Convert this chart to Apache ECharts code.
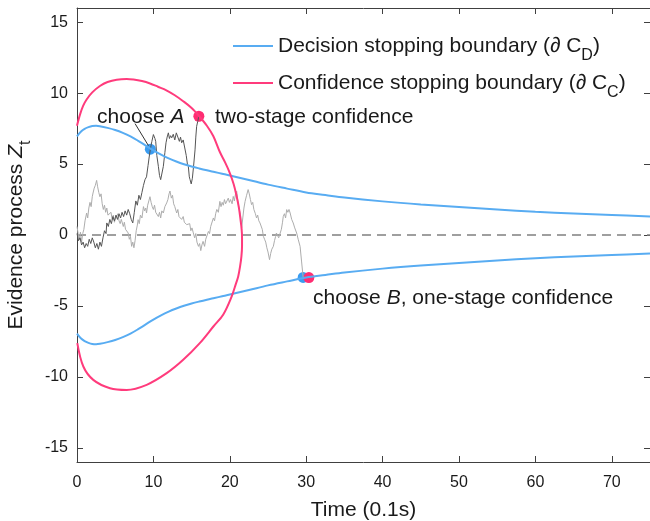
<!DOCTYPE html>
<html>
<head>
    <meta charset="utf-8">
    <title>Evidence process</title>
    <script src="https://cdn.jsdelivr.net/npm/echarts@6/dist/echarts.min.js"></script>
    <style>
        html, body { margin: 0; padding: 0; background: #fff; }
        #main { width: 650px; height: 521px; }
    </style>
</head>
<body>
<div id="main"></div>
<script>
    // 决策边界 (上下两条)
    var boundaryT = [0, 0.5, 1, 1.5, 2, 2.5, 3, 4, 5, 6, 7, 8, 9, 10, 11, 12, 13, 14, 15, 16, 17, 18, 19, 20,
        22.5, 25, 27.5, 30, 32.5, 35, 40, 45, 50, 55, 60, 65, 70, 75];
    var decisionUpper = [6.95, 7.28, 7.48, 7.6, 7.68, 7.7, 7.67, 7.55, 7.4, 7.2, 6.95, 6.64, 6.3, 5.96, 5.66, 5.4,
        5.18, 4.99, 4.83, 4.69, 4.56, 4.44, 4.32, 4.2, 3.88, 3.55, 3.27, 3.0, 2.82, 2.64, 2.37, 2.15, 1.97, 1.8,
        1.64, 1.52, 1.41, 1.3];
    var decisionLower = [-6.95, -7.28, -7.48, -7.6, -7.68, -7.7, -7.67, -7.55, -7.4, -7.2, -6.95, -6.64, -6.3,
        -5.96, -5.66, -5.4, -5.18, -4.99, -4.83, -4.69, -4.56, -4.44, -4.32, -4.2, -3.88, -3.55, -3.27, -3.0,
        -2.82, -2.64, -2.37, -2.15, -1.97, -1.8, -1.64, -1.52, -1.41, -1.3];

    // 置信边界 (闭合曲线, 按顺序)
    var confidenceCurve = [[0, 7.7], [0.4, 8.5], [0.8, 9.1], [1.26, 9.55], [2, 10.05], [3, 10.5], [4, 10.78],
        [5.2, 10.95], [6.5, 11.0], [7.4, 10.96], [8.5, 10.85], [9.56, 10.68], [10.6, 10.45], [11.7, 10.2],
        [12.8, 9.85], [13.9, 9.43], [15, 8.95], [16, 8.37], [17, 7.7], [17.85, 6.96], [18.7, 5.85],
        [19.4, 5.1], [19.9, 4.5], [20.5, 3.6], [20.9, 2.72], [21.2, 1.9], [21.4, 1.08], [21.55, 0.4],
        [21.6, -0.2], [21.6, -0.8], [21.52, -1.5], [21.35, -2.2], [21.1, -2.92], [20.7, -3.6], [20.25, -4.33],
        [19.15, -5.6], [17.85, -6.45], [16.1, -7.6], [13.9, -8.8], [11.74, -9.74], [9.12, -10.56],
        [6.5, -10.92], [4.32, -10.8], [2.13, -10.21], [0.83, -9.27], [0.04, -7.62]];

    // 证据过程 A (深灰)
    var pathA = [[0, 0.1], [0.2, -0.4], [0.4, -0.2], [0.6, -0.7], [0.8, -0.5], [1.0, -0.9], [1.2, -0.6],
        [1.4, -0.8], [1.6, -0.3], [1.8, -0.6], [2.0, -0.2], [2.2, -0.5], [2.4, -0.9], [2.6, -0.6], [2.8, -1.0],
        [3.0, -0.5], [3.2, -0.8], [3.4, -0.2], [3.6, 0.3], [3.8, 0.1], [3.9, 0.85], [4.1, 0.6], [4.3, 1.1],
        [4.5, 0.8], [4.7, 1.3], [4.9, 1.0], [5.1, 1.4], [5.3, 1.1], [5.5, 1.5], [5.7, 1.2], [5.9, 1.6],
        [6.1, 1.3], [6.3, 1.7], [6.5, 1.4], [6.7, 1.8], [6.9, 1.5], [7.1, 1.1], [7.3, 0.85], [7.5, 1.6],
        [7.7, 2.4], [7.9, 2.1], [8.1, 2.8], [8.3, 2.5], [8.5, 3.0], [8.7, 3.5], [8.9, 3.9], [9.1, 4.1],
        [9.3, 4.9], [9.45, 5.5], [9.6, 6.05], [9.8, 6.6], [10.0, 7.08], [10.2, 6.8], [10.3, 6.6], [10.45, 5.6],
        [10.65, 4.84], [10.8, 4.2], [10.95, 3.9], [11.1, 4.3], [11.3, 4.84], [11.5, 5.8], [11.65, 6.5],
        [11.8, 6.9], [11.96, 7.2], [12.1, 6.8], [12.25, 7.0], [12.4, 6.85], [12.6, 7.1], [12.8, 6.7],
        [13.0, 7.2], [13.2, 6.9], [13.4, 6.6], [13.55, 6.9], [13.7, 6.5], [13.9, 6.7], [14.1, 6.6],
        [14.3, 5.6], [14.45, 5.0], [14.57, 4.84], [14.7, 4.1], [14.8, 3.9], [14.95, 3.6], [15.1, 4.0],
        [15.25, 4.8], [15.45, 6.0], [15.55, 6.9], [15.66, 7.66], [15.8, 8.0], [15.95, 8.37]];

    // 证据过程 B (浅灰)
    var pathB = [[0, 0.6], [0.15, 0.1], [0.3, -0.3], [0.45, 0.2], [0.6, -0.5], [0.75, 0.1], [0.9, 0.4],
        [1.05, 1.0], [1.26, 1.55], [1.4, 1.2], [1.55, 1.9], [1.7, 2.3], [1.85, 2.0], [2.0, 2.7], [2.1, 2.96],
        [2.25, 3.3], [2.4, 3.5], [2.57, 3.85], [2.7, 3.4], [2.85, 3.0], [3.0, 2.7], [3.15, 2.9], [3.3, 2.2],
        [3.45, 1.8], [3.6, 2.1], [3.75, 1.6], [3.9, 1.9], [4.05, 1.4], [4.3, 1.3], [4.45, 1.6], [4.6, 1.1],
        [4.75, 1.4], [4.9, 0.9], [5.05, 1.2], [5.2, 1.1], [5.35, 1.5], [5.5, 1.0], [5.65, 0.8], [5.8, 1.1],
        [6.06, 0.6], [6.2, 0.9], [6.35, 0.4], [6.5, 0.5], [6.7, 0.14], [6.85, -0.3], [7.0, -0.1], [7.15, -0.8],
        [7.3, -0.5], [7.45, -0.9], [7.6, -0.4], [7.75, 0.3], [7.9, 0.7], [8.0, 1.08], [8.15, 0.8], [8.3, 1.4],
        [8.5, 1.2], [8.7, 2.0], [8.85, 1.7], [9.0, 1.9], [9.1, 1.55], [9.25, 2.1], [9.4, 2.4], [9.55, 2.7],
        [9.7, 2.3], [9.85, 2.0], [10.0, 1.8], [10.15, 2.1], [10.3, 1.6], [10.5, 1.5], [10.65, 1.3], [10.8, 1.6],
        [10.95, 1.2], [11.1, 1.7], [11.3, 1.55], [11.5, 2.0], [11.74, 2.26], [11.9, 2.5], [12.05, 2.9],
        [12.17, 3.1], [12.35, 2.6], [12.5, 2.8], [12.65, 2.2], [12.8, 2.0], [13.05, 1.55], [13.2, 1.8],
        [13.35, 1.3], [13.5, 1.43], [13.7, 1.1], [13.9, 1.3], [14.05, 0.9], [14.2, 1.0], [14.36, 0.73],
        [14.57, 0.6], [14.75, 0.8], [14.9, 0.3], [15.05, 0.5], [15.2, 0.2], [15.4, -0.2], [15.55, 0.1],
        [15.7, -0.5], [15.9, -0.8], [16.05, -0.6], [16.2, -1.1], [16.35, -0.7], [16.5, -0.45], [16.7, -0.8],
        [16.85, -0.3], [17.0, -0.33], [17.2, 0.25], [17.35, 0.1], [17.5, 0.6], [17.7, 0.5], [17.85, 1.2],
        [18.0, 1.0], [18.15, 1.5], [18.3, 1.8], [18.5, 1.6], [18.7, 2.37], [18.85, 2.0], [19.0, 2.3],
        [19.15, 2.1], [19.3, 2.5], [19.45, 2.2], [19.6, 2.14], [19.8, 2.6], [19.95, 2.3], [20.1, 2.5],
        [20.3, 2.2], [20.45, 2.72], [20.6, 2.4], [20.75, 2.9], [20.9, 3.08], [21.05, 2.4], [21.2, 1.9],
        [21.4, 1.43], [21.5, 0.9], [21.55, 0.5], [21.7, 1.2], [21.85, 1.9], [22.0, 2.37], [22.2, 2.8],
        [22.4, 3.2], [22.55, 2.9], [22.7, 2.5], [22.85, 2.14], [23.0, 2.3], [23.15, 1.8], [23.35, 1.5],
        [23.5, 1.2], [23.65, 1.4], [23.8, 1.0], [23.95, 0.85], [24.1, 0.9], [24.25, 0.4], [24.4, -0.1],
        [24.55, -0.3], [24.7, -0.5], [24.85, -0.9], [25.0, -1.2], [25.2, -1.74], [25.35, -1.3], [25.5, -1.0],
        [25.7, -0.8], [25.85, -0.4], [26.0, -0.1], [26.1, 0.14], [26.25, 0.0], [26.4, -0.2], [26.6, -0.33],
        [26.75, 0.4], [26.9, 0.9], [27.0, 1.31], [27.15, 1.5], [27.3, 1.2], [27.45, 1.79], [27.6, 1.6],
        [27.75, 1.8], [27.9, 1.55], [28.1, 1.1], [28.3, 0.85], [28.5, 0.5], [28.75, 0.14], [28.95, -0.3],
        [29.2, -0.8], [29.4, -1.9], [29.6, -2.99]];

    var zeroLine = [[0, 0], [75, 0]];
    var leaderLine = [[7.6, 7.85], [9.35, 6.3]];
    var decisionDots = [[9.6, 6.05], [29.6, -2.99]];
    var confidenceDots = [[15.95, 8.37], [30.35, -3.0]];

    // 文字标注
    var noteT = [2.62, 18.06, 30.9];
    var noteZ = [8.3, 8.3, -4.45];
    var noteText = ['{n|choose }{i|A}', '{n|two-stage confidence}', '{n|choose }{i|B}{n|, one-stage confidence}'];

    var xTicks = [0, 10, 20, 30, 40, 50, 60, 70];
    var yTicks = [-15, -10, -5, 0, 5, 10, 15];

    var FONT = '"Liberation Sans", Arial, sans-serif';
    var TXT = '#1a1a1a';
    var AXIS = '#404040';
    var BLUE = '#58acf2';
    var PINK = '#ff3b7c';

    var chart = echarts.init(document.getElementById('main'));

    var notes = [];
    for (var i = 0; i < noteT.length; i++) {
        notes.push({value: [noteT[i], noteZ[i]], text: noteText[i]});
    }

    function boundaryData(zs) {
        var out = [];
        for (var k = 0; k < boundaryT.length; k++) out.push([boundaryT[k], zs[k]]);
        return out;
    }

    var richText = {
        n: {fontSize: 21, fontFamily: FONT, color: TXT, lineHeight: 24},
        i: {fontSize: 21, fontFamily: FONT, color: TXT, fontStyle: 'italic', lineHeight: 24},
        s: {fontSize: 16, fontFamily: FONT, color: TXT, lineHeight: 24, padding: [20, 0, 0, 0]}
    };

    function axisX(pos) {
        return {
            type: 'value', min: 0, max: 75, position: pos,
            name: pos === 'bottom' ? 'Time (0.1s)' : '',
            nameLocation: 'middle', nameGap: 38,
            nameTextStyle: {fontSize: 21, fontFamily: FONT, color: TXT},
            axisLine: {show: true, onZero: false, lineStyle: {color: AXIS, width: 1}},
            axisTick: {show: true, inside: true, length: 6, customValues: xTicks, lineStyle: {color: AXIS}},
            axisLabel: {show: pos === 'bottom', customValues: xTicks, margin: 13, fontSize: 16, fontFamily: FONT, color: TXT},
            splitLine: {show: false}
        };
    }

    function axisY(pos) {
        return {
            type: 'value', min: -16, max: 16, position: pos,
            name: pos === 'left' ? '{n|Evidence process }{i|Z}{s|t}' : '',
            nameLocation: 'middle', nameGap: 34,
            nameTextStyle: {rich: richText, fontSize: 21, fontFamily: FONT, color: TXT},
            axisLine: {show: true, onZero: false, lineStyle: {color: AXIS, width: 1}},
            axisTick: {show: true, inside: true, length: 6, customValues: yTicks, lineStyle: {color: AXIS}},
            axisLabel: {show: pos === 'left', customValues: yTicks, margin: 9, fontSize: 16, fontFamily: FONT, color: TXT},
            splitLine: {show: false}
        };
    }

    function legendItem(name, sub, top) {
        return {
            orient: 'vertical', left: 233, top: top, padding: 0,
            itemWidth: 40, itemHeight: 2, icon: 'rect',
            data: [name],
            formatter: function () { return '{n|' + name + ' (\u2202 C}{s|' + sub + '}{n|)}'; },
            textStyle: {rich: richText}
        };
    }

    var option = {
        animation: false,
        backgroundColor: '#fff',
        grid: {left: 77, right: 0, top: 8, bottom: 59, containLabel: false, outerBoundsMode: 'none'},
        xAxis: [axisX('bottom'), axisX('top')],
        yAxis: [axisY('left'), axisY('right')],
        legend: [
            legendItem('Decision stopping boundary', 'D', 28),
            legendItem('Confidence stopping boundary', 'C', 65)
        ],
        series: [
            {
                name: 'zero', type: 'line', data: zeroLine, symbol: 'none', silent: true,
                lineStyle: {color: '#808080', width: 1.5, type: [9, 6]}
            },
            {
                name: 'pathB', type: 'line', data: pathB, symbol: 'none',
                lineStyle: {color: '#adadad', width: 1}
            },
            {
                name: 'pathA', type: 'line', data: pathA, symbol: 'none',
                lineStyle: {color: '#555555', width: 1}
            },
            {
                name: 'Decision stopping boundary', type: 'line', data: boundaryData(decisionUpper),
                symbol: 'none', smooth: 0.35,
                itemStyle: {color: BLUE}, lineStyle: {color: BLUE, width: 2}
            },
            {
                name: 'Decision stopping boundary', type: 'line', data: boundaryData(decisionLower),
                symbol: 'none', smooth: 0.35,
                itemStyle: {color: BLUE}, lineStyle: {color: BLUE, width: 2}
            },
            {
                name: 'Confidence stopping boundary', type: 'line', data: confidenceCurve,
                symbol: 'none', smooth: 0.35, itemStyle: {color: PINK}, lineStyle: {color: PINK, width: 2}
            },
            {
                name: 'leader', type: 'line', data: leaderLine, symbol: 'none',
                lineStyle: {color: '#333', width: 1}
            },
            {
                name: 'decisionDots', type: 'scatter', data: decisionDots, symbolSize: 11,
                itemStyle: {color: '#3a9cf0', opacity: 1}
            },
            {
                name: 'confidenceDots', type: 'scatter', data: confidenceDots, symbolSize: 11,
                itemStyle: {color: '#ff2d72', opacity: 1}
            },
            {
                name: 'notes', type: 'scatter', data: notes, symbolSize: 0, silent: true,
                itemStyle: {opacity: 1},
                label: {
                    show: true, position: 'right', distance: 0, opacity: 1,
                    formatter: function (p) { return p.data.text; },
                    rich: richText
                }
            }
        ]
    };

    chart.setOption(option);
</script>
</body>
</html>
